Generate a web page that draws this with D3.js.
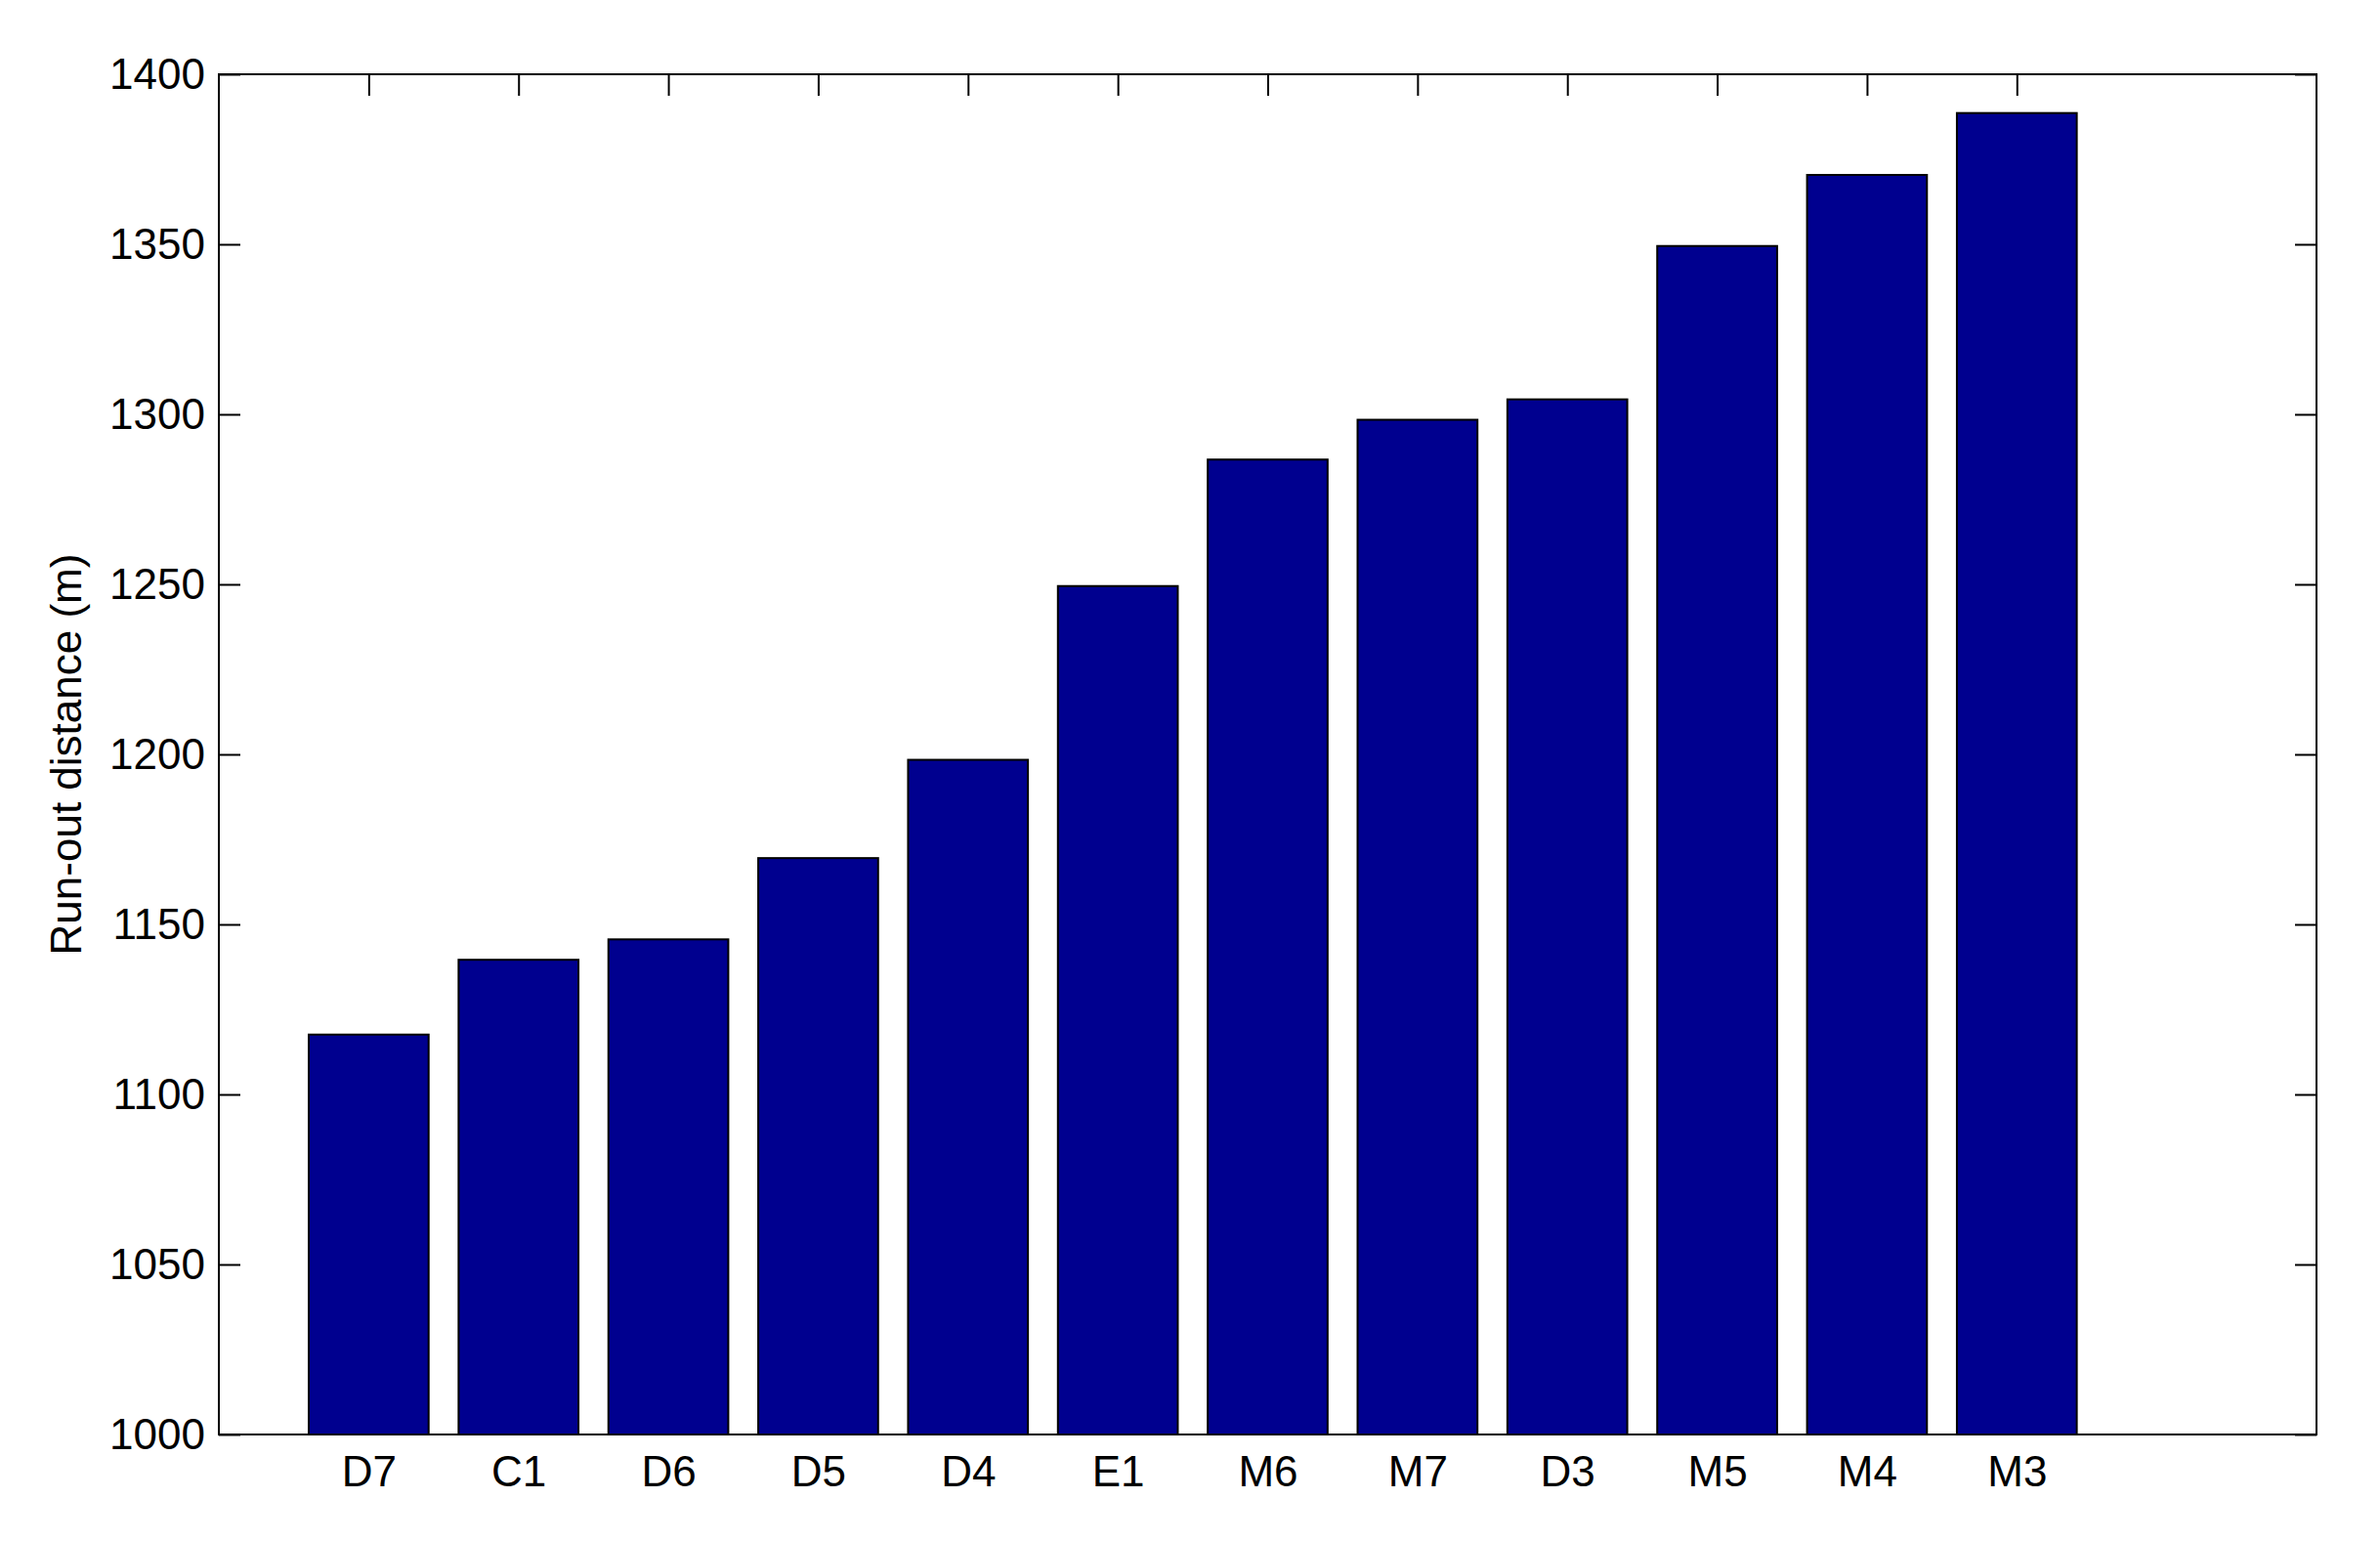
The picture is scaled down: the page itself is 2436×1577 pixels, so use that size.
<!DOCTYPE html>
<html>
<head>
<meta charset="utf-8">
<script src="https://cdn.jsdelivr.net/npm/d3@7"></script>
<style>
  html, body { margin: 0; padding: 0; background: #fff; }
  svg { display: block; }
  text { font-family: "Liberation Sans", Arial, Helvetica, sans-serif; }
</style>
</head>
<body>
<svg id="chart" width="2436" height="1577"></svg>
<script>
const categories = ["D7", "C1", "D6", "D5", "D4", "E1", "M6", "M7", "D3", "M5", "M4", "M3"];
const runoutDistance = [1117.6, 1139.6, 1145.6, 1169.5, 1198.4, 1249.5, 1286.7, 1298.4, 1304.4, 1349.5, 1370.4, 1388.6];
const yTicks = [1000, 1050, 1100, 1150, 1200, 1250, 1300, 1350, 1400];
const yLabel = "Run-out distance (m)";

const W = 2436, H = 1577;
const plot = { left: 224, right: 2371, top: 76, bottom: 1468 };
const fontSize = 44;
const tickLen = 22;

const svg = d3.select("#chart");
svg.append("rect").attr("width", W).attr("height", H).attr("fill", "#fff");

const x = d3.scaleLinear().domain([0, categories.length + 2]).range([plot.left, plot.right]);
const y = d3.scaleLinear().domain([1000, 1400]).range([plot.bottom, plot.top]);
const idx = categories.map((c, i) => i + 1);
const barW = (x(1) - x(0)) * 0.8;

function styleAxis(g) {
  g.select(".domain").remove();
  g.selectAll(".tick line").attr("stroke", "#000").attr("stroke-width", 2);
  g.selectAll(".tick text").attr("fill", "#000").attr("font-size", fontSize);
}

// left axis (ticks inward)
svg.append("g").attr("transform", `translate(${plot.left},0)`)
  .call(d3.axisLeft(y).tickValues(yTicks).tickSize(-tickLen).tickPadding(14).tickFormat(d3.format("d")))
  .call(styleAxis)
  .call(g => g.selectAll("text").attr("font-family", "Liberation Sans, Arial, sans-serif"));

// right axis (ticks inward, no labels)
svg.append("g").attr("transform", `translate(${plot.right},0)`)
  .call(d3.axisRight(y).tickValues(yTicks).tickSize(-tickLen).tickFormat(""))
  .call(styleAxis);

// top axis (ticks inward, no labels)
svg.append("g").attr("transform", `translate(0,${plot.top})`)
  .call(d3.axisTop(x).tickValues(idx).tickSize(-tickLen).tickFormat(""))
  .call(styleAxis);

// bottom axis (ticks inward, category labels)
svg.append("g").attr("transform", `translate(0,${plot.bottom})`)
  .call(d3.axisBottom(x).tickValues(idx).tickSize(-tickLen).tickPadding(22).tickFormat(d => categories[d - 1]))
  .call(styleAxis)
  .call(g => g.selectAll("text").attr("font-family", "Liberation Sans, Arial, sans-serif"));

// bars
svg.append("g").selectAll("rect.bar")
  .data(runoutDistance)
  .join("rect")
  .attr("class", "bar")
  .attr("x", (d, i) => x(i + 1) - barW / 2)
  .attr("width", barW)
  .attr("y", d => y(d))
  .attr("height", d => y(1000) - y(d))
  .attr("fill", "#00008F")
  .attr("stroke", "#000")
  .attr("stroke-width", 2);

// frame
svg.append("rect")
  .attr("x", plot.left).attr("y", plot.top)
  .attr("width", plot.right - plot.left).attr("height", plot.bottom - plot.top)
  .attr("fill", "none").attr("stroke", "#000").attr("stroke-width", 2);

// y label
svg.append("text")
  .attr("transform", `translate(83,${(plot.top + plot.bottom) / 2}) rotate(-90)`)
  .attr("text-anchor", "middle")
  .attr("font-size", fontSize)
  .attr("fill", "#000")
  .text(yLabel);
</script>
</body>
</html>
